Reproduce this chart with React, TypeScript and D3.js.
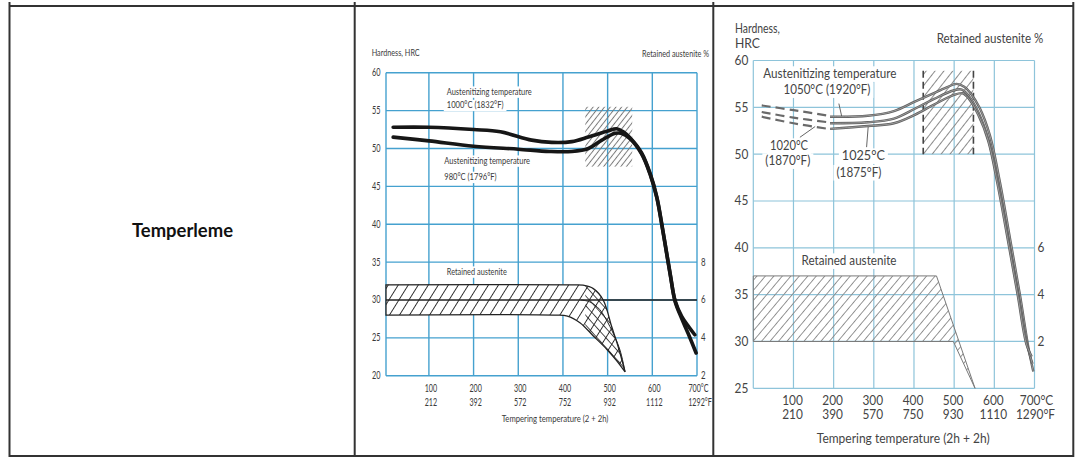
import * as d3 from "d3";

// ---------- data: left chart (austenitized 980 / 1000 °C) ----------
const C1_TEMP_TICKS = [100, 200, 300, 400, 500, 600, 700];
const C1_TEMP_C = ["100", "200", "300", "400", "500", "600", "700°C"];
const C1_TEMP_F = ["212", "392", "572", "752", "932", "1112", "1292°F"];
const C1_HRC_TICKS = [20, 25, 30, 35, 40, 45, 50, 55, 60];
const C1_RA_TICKS = [2, 4, 6, 8];
const C1_A1000: [number, number][] = [
  [20, 52.8], [100, 52.8], [200, 52.5], [260, 52.2], [330, 51.1], [375, 50.8], [420, 50.9],
  [457, 51.5], [500, 52.3], [520, 52.6], [535, 52.2], [550, 51.4], [576, 49.4], [595, 46.7],
  [610, 43.6], [621, 40.1], [631, 36.6], [641, 33.1], [651, 29.9], [666, 27.8], [680, 26.6], [695, 25.4],
];
const C1_A980: [number, number][] = [
  [20, 51.5], [100, 51.0], [200, 50.3], [300, 49.9], [370, 49.6], [420, 49.6], [457, 50.0],
  [487, 51.1], [517, 52.0], [530, 52.0], [550, 51.3], [576, 49.3], [595, 46.6], [610, 43.5],
  [621, 40.0], [631, 36.5], [641, 33.0], [651, 29.8], [666, 27.5], [680, 25.6], [698, 23.0],
];
// retained austenite band (%, right axis)
const C1_RA_TOP: [number, number][] = [[4, 6.8], [420, 6.8], [445, 6.78], [468, 6.6], [490, 6.0], [509, 4.6], [524, 3.5], [539, 2.2]];
const C1_RA_BOTTOM: [number, number][] = [[4, 5.2], [380, 5.2], [410, 5.15], [438, 4.8], [468, 4.1], [498, 3.4], [520, 2.8], [539, 2.2]];
const C1_RA_MID: [number, number][] = [[440, 6.0], [460, 5.9], [482, 5.5], [505, 4.6], [527, 3.4], [539, 2.2]];
const C1_RA_LEVEL = 6;
const C1_BOX_TEMP = [450, 555];
const C1_BOX_HRC = [47.6, 55.5];

// ---------- data: right chart (austenitized 1020 / 1025 / 1050 °C) ----------
const C2_TEMP_TICKS = [100, 200, 300, 400, 500, 600, 700];
const C2_TEMP_C = ["100", "200", "300", "400", "500", "600", "700°C"];
const C2_TEMP_F = ["210", "390", "570", "750", "930", "1110", "1290°F"];
const C2_HRC_TICKS = [25, 30, 35, 40, 45, 50, 55, 60];
const C2_RA_TICKS = [2, 4, 6];
const C2_1050_DASH: [number, number][] = [[21, 55.2], [100, 54.7], [187, 54.1]];
const C2_1050: [number, number][] = [
  [191, 54.0], [285, 54.1], [350, 54.6], [402, 55.6], [444, 56.4], [480, 57.1], [506, 57.5], [525, 57.2],
  [539, 56.6], [564, 54.9], [589, 52.0], [614, 47.0], [639, 41.0], [664, 34.9], [685, 29.3], [697, 26.8],
];
const C2_1025_DASH: [number, number][] = [[21, 54.5], [100, 53.9], [187, 53.4]];
const C2_1025: [number, number][] = [
  [191, 53.3], [285, 53.4], [350, 53.8], [402, 54.85], [450, 55.9], [498, 56.8], [519, 56.9], [535, 56.3],
  [560, 54.5], [585, 51.6], [610, 46.8], [635, 40.9], [660, 34.9], [682, 29.6], [695, 27.6],
];
const C2_1020_DASH: [number, number][] = [[21, 54.0], [100, 53.3], [187, 52.7]];
const C2_1020: [number, number][] = [
  [191, 52.7], [285, 53.0], [350, 53.3], [402, 54.2], [450, 55.3], [498, 56.3], [521, 56.5], [537, 55.9],
  [560, 54.2], [585, 51.4], [608, 46.8], [633, 41.0], [658, 35.0], [680, 29.7], [693, 28.4],
];
const C2_RA_ZONE: [number, number][] = [[0, 4.8], [456, 4.8], [552, 0], [498, 2], [0, 2]];
const C2_BOX_TEMP = [423, 548];
const C2_BOX_HRC = [50, 58.9];
const C2_LEADERS: [number, number][][] = [
  [[213, 55.4], [220, 54.05]],
  [[116, 51.8], [154, 52.95]],
  [[282, 50.75], [286, 52.95]],
];

const FONT = "Lato, 'Open Sans', sans-serif";
const GRID1 = "#45a1cf";
const GRID2 = "#8ec4da";
const BORDER = "#333";

// scales
const x1 = d3.scaleLinear().domain([4, 700]).range([386, 697]);
const y1 = d3.scaleLinear().domain([20, 60]).range([375.7, 72.7]);
const r1 = d3.scaleLinear().domain([2, 18]).range([375.7, 72.7]);
const x2 = d3.scaleLinear().domain([0, 700]).range([753.3, 1034.5]);
const y2 = d3.scaleLinear().domain([25, 60]).range([388.3, 60.5]);
const r2 = d3.scaleLinear().domain([0, 14]).range([388.3, 60.5]);

const curve = d3.curveCatmullRom.alpha(0.5);
const line1 = d3.line<[number, number]>().x((d) => x1(d[0])).y((d) => y1(d[1])).curve(curve);
const raLine1 = d3.line<[number, number]>().x((d) => x1(d[0])).y((d) => r1(d[1])).curve(curve);
const line2 = d3.line<[number, number]>().x((d) => x2(d[0])).y((d) => y2(d[1])).curve(curve);
const raPoly2 = d3.line<[number, number]>().x((d) => x2(d[0])).y((d) => r2(d[1]));
const seg2 = d3.line<[number, number]>().x((d) => x2(d[0])).y((d) => y2(d[1]));

type TP = {
  x: number; y: number; children: any; size?: number; anchor?: "start" | "middle" | "end";
  w?: number; sx?: number; fill?: string; weight?: number; bg?: boolean;
};
function T({ x, y, children, size = 10, anchor = "start", w, sx, fill = "#3a3a3a", weight, bg }: TP) {
  const common = { fontSize: size, textAnchor: anchor, fill, fontFamily: FONT, fontWeight: weight };
  const el = sx ? (
    <text transform={`translate(${x},${y}) scale(${sx},1)`} {...common}>{children}</text>
  ) : (
    <text x={x} y={y} {...common} textLength={w} lengthAdjust={w ? "spacingAndGlyphs" : undefined}>{children}</text>
  );
  if (!bg || !w) return el;
  const left = anchor === "start" ? x : anchor === "middle" ? x - w / 2 : x - w;
  return (
    <g>
      <rect x={left - 3} y={y - size * 0.9} width={w + 6} height={size * 1.2} fill="#fff" />
      {el}
    </g>
  );
}

function Hatch({ id, s, a, color, sw }: { id: string; s: number; a: number; color: string; sw: number }) {
  return (
    <pattern id={id} patternUnits="userSpaceOnUse" width={s} height={s} patternTransform={`rotate(${a})`}>
      <line x1={s / 2} y1={-1} x2={s / 2} y2={s + 1} stroke={color} strokeWidth={sw} />
    </pattern>
  );
}

function LeftChart() {
  const [t0, t1] = x1.domain();
  const band = raLine1(C1_RA_TOP) + "L" + raLine1(C1_RA_BOTTOM.slice().reverse())!.slice(1) + "Z";
  return (
    <g>
      {/* grid */}
      {C1_HRC_TICKS.map((v) => (
        <line key={`h${v}`} x1={x1(t0)} x2={x1(t1)} y1={y1(v)} y2={y1(v)} stroke={GRID1} strokeWidth={1.4} />
      ))}
      {[t0, ...C1_TEMP_TICKS].map((v) => (
        <line key={`v${v}`} x1={x1(v)} x2={x1(v)} y1={y1(20)} y2={y1(60)} stroke={GRID1} strokeWidth={1.4} />
      ))}
      {/* hatched zone near secondary hardness peak */}
      <rect x={x1(C1_BOX_TEMP[0])} width={x1(C1_BOX_TEMP[1]) - x1(C1_BOX_TEMP[0])}
        y={y1(C1_BOX_HRC[1])} height={y1(C1_BOX_HRC[0]) - y1(C1_BOX_HRC[1])} fill="url(#p1box)" />
      {/* retained austenite band */}
      <path d={band} fill="#fff" />
      <path d={band} fill="url(#p1band)" />
      <path d={band} fill="url(#p1cross)" clipPath="url(#c1clip)" />
      <path d={band} fill="none" stroke="#222" strokeWidth={1.3} />
      <path d={raLine1(C1_RA_MID)!} fill="none" stroke="#222" strokeWidth={1} />
      <line x1={x1(t0)} x2={x1(t1)} y1={r1(C1_RA_LEVEL)} y2={r1(C1_RA_LEVEL)} stroke="#222" strokeWidth={1.6} />
      {/* labels over grid */}
      <T x={x1(140)} y={y1(57.06)} w={85} size={9.5} bg>Austenitizing temperature</T>
      <T x={x1(140)} y={y1(55.3)} w={56.7} size={9.5} bg>1000°C (1832°F)</T>
      <T x={x1(134.5)} y={y1(47.95)} w={85.7} size={9.5} bg>Austenitizing temperature</T>
      <T x={x1(134.5)} y={y1(45.8)} w={52.3} size={9.5} bg>980°C (1796°F)</T>
      <T x={x1(140)} y={y1(33.3)} w={60} size={9.5} bg>Retained austenite</T>
      {/* hardness curves */}
      <path d={line1(C1_A980)!} fill="none" stroke="#161616" strokeWidth={3.6} strokeLinecap="round" />
      <path d={line1(C1_A1000)!} fill="none" stroke="#161616" strokeWidth={3.6} strokeLinecap="round" />
      {/* axes text */}
      {C1_HRC_TICKS.map((v) => (
        <T key={`yl${v}`} x={x1(t0) - 5.5} y={y1(v) + 3.5} size={10.5} sx={0.7} anchor="end">{v}</T>
      ))}
      {C1_RA_TICKS.map((v) => (
        <T key={`rl${v}`} x={x1(t1) + 4} y={r1(v) + 3.5} size={10.5} sx={0.75}>{v}</T>
      ))}
      {C1_TEMP_TICKS.map((v, i) => (
        <g key={`xl${v}`}>
          <T x={x1(v) + (i === 6 ? 1.5 : 2)} y={391.7} size={10.5} sx={0.68} anchor="middle">{C1_TEMP_C[i]}</T>
          <T x={x1(v) + (i === 6 ? 3 : 2)} y={405.7} size={10.5} sx={0.68} anchor="middle">{C1_TEMP_F[i]}</T>
        </g>
      ))}
      <T x={x1(-28)} y={y1(62.2)} w={48} size={9.5}>Hardness, HRC</T>
      <T x={x1(727)} y={y1(62.1)} w={67} size={9.5} anchor="end">Retained austenite %</T>
      <T x={x1(263)} y={y1(13.9)} w={106.7} size={9.5}>Tempering temperature  (2 + 2h)</T>
    </g>
  );
}

function RightChart() {
  const [t0, t1] = x2.domain();
  const curves = [
    { dash: C2_1050_DASH, solid: C2_1050 },
    { dash: C2_1025_DASH, solid: C2_1025 },
    { dash: C2_1020_DASH, solid: C2_1020 },
  ];
  const bx0 = x2(C2_BOX_TEMP[0]), bx1 = x2(C2_BOX_TEMP[1]);
  const by0 = y2(C2_BOX_HRC[1]), by1 = y2(C2_BOX_HRC[0]);
  return (
    <g>
      {C2_HRC_TICKS.map((v) => (
        <line key={`h${v}`} x1={x2(t0)} x2={x2(t1)} y1={y2(v)} y2={y2(v)} stroke={GRID2} strokeWidth={1.2} />
      ))}
      {[t0, ...C2_TEMP_TICKS].map((v) => (
        <line key={`v${v}`} x1={x2(v)} x2={x2(v)} y1={y2(25)} y2={y2(60)} stroke={GRID2} strokeWidth={1.2} />
      ))}
      {/* retained austenite zone */}
      <path d={raPoly2(C2_RA_ZONE) + "Z"} fill="url(#p2zone)" stroke="#7a7a7a" strokeWidth={1} />
      {/* hatched box with dashed sides */}
      <rect x={bx0} y={by0} width={bx1 - bx0} height={by1 - by0} fill="url(#p2box)" />
      <line x1={bx0} x2={bx0} y1={by0} y2={by1} stroke="#444" strokeWidth={1.6} strokeDasharray="7 4" />
      <line x1={bx1} x2={bx1} y1={by0} y2={by1} stroke="#444" strokeWidth={1.6} strokeDasharray="7 4" />
      {/* labels */}
      <T x={x2(25)} y={y2(58.13)} w={133} size={13} fill="#444" bg>Austenitizing temperature</T>
      <T x={x2(75)} y={y2(56.42)} w={87} size={13} fill="#444" bg>1050°C (1920°F)</T>
      <T x={x2(89)} y={y2(50.44)} w={38} size={13} fill="#444" anchor="middle" bg>1020°C</T>
      <T x={x2(86)} y={y2(48.84)} w={45} size={13} fill="#444" anchor="middle" bg>(1870°F)</T>
      <T x={x2(274)} y={y2(49.37)} w={43} size={13} fill="#444" anchor="middle" bg>1025°C</T>
      <T x={x2(263)} y={y2(47.6)} w={45} size={13} fill="#444" anchor="middle" bg>(1875°F)</T>
      <T x={x2(120)} y={y2(38.16)} w={95} size={13} fill="#444" bg>Retained austenite</T>
      {C2_LEADERS.map((l, i) => (
        <path key={`ld${i}`} d={seg2(l)!} stroke="#666" strokeWidth={1} fill="none" />
      ))}
      {/* hardness curves */}
      {curves.map((c, i) => (
        <g key={`c${i}`}>
          <path d={line2(c.dash)!} fill="none" stroke="#6a6a6a" strokeWidth={2.2} strokeDasharray="9 5" />
          <path d={line2(c.solid)!} fill="none" stroke="#5e5e5e" strokeWidth={2.4} />
          <path d={line2(c.solid)!} fill="none" stroke="#b4b4b4" strokeWidth={0.7} />
        </g>
      ))}
      {/* axes text */}
      {C2_HRC_TICKS.map((v) => (
        <T key={`yl${v}`} x={x2(t0) - 5} y={y2(v) + 4.5} size={12.5} sx={0.95} anchor="end" fill="#444">{v}</T>
      ))}
      {C2_RA_TICKS.map((v) => (
        <T key={`rl${v}`} x={x2(t1) + 3} y={r2(v) + 4.5} size={12.5} sx={0.95} fill="#444">{v}</T>
      ))}
      {C2_TEMP_TICKS.map((v, i) => (
        <g key={`xl${v}`}>
          <T x={x2(v) + (i === 6 ? 2 : -1)} y={405} size={12.5} sx={0.95} anchor="middle" fill="#444">{C2_TEMP_C[i]}</T>
          <T x={x2(v) + (i === 6 ? 1 : -1)} y={419} size={12.5} sx={0.95} anchor="middle" fill="#444">{C2_TEMP_F[i]}</T>
        </g>
      ))}
      <T x={x2(-45.6)} y={y2(62.94)} w={45} size={13} fill="#444">Hardness,</T>
      <T x={x2(-45.6)} y={y2(61.34)} w={25} size={13} fill="#444">HRC</T>
      <T x={x2(722)} y={y2(61.87)} w={106.7} size={13} fill="#444" anchor="end">Retained austenite %</T>
      <T x={x2(158)} y={y2(19.16)} w={173} size={13} fill="#444">Tempering temperature (2h + 2h)</T>
    </g>
  );
}

export default function App() {
  return (
    <div style={{ position: "absolute", left: 0, top: 0 }}>
      <svg width={1075} height={457} style={{ display: "block", background: "#fff" }}>
        <defs>
          <Hatch id="p1band" s={8.5} a={32} color="#222" sw={0.9} />
          <Hatch id="p1cross" s={6.5} a={-42} color="#222" sw={0.8} />
          <Hatch id="p1box" s={4.5} a={38} color="#7a7a7a" sw={1} />
          <Hatch id="p2zone" s={6.5} a={40} color="#8a8a8a" sw={0.9} />
          <Hatch id="p2box" s={7} a={38} color="#8a8a8a" sw={1} />
          <clipPath id="c1clip">
            <rect x={x1(450)} y={0} width={x1(700) - x1(450)} height={457} />
          </clipPath>
        </defs>
        {/* table frame */}
        <line x1={9} x2={1074} y1={6} y2={6} stroke={BORDER} strokeWidth={2} />
        <line x1={9} x2={1074} y1={456} y2={456} stroke={BORDER} strokeWidth={2} />
        {[9.5, 354.7, 713.3, 1073.3].map((x) => (
          <line key={x} x1={x} x2={x} y1={2} y2={457} stroke={BORDER} strokeWidth={2} />
        ))}
        <T x={182.5} y={237.3} size={18} w={101} weight={700} anchor="middle" fill="#111">Temperleme</T>
        <LeftChart />
        <RightChart />
      </svg>
    </div>
  );
}
